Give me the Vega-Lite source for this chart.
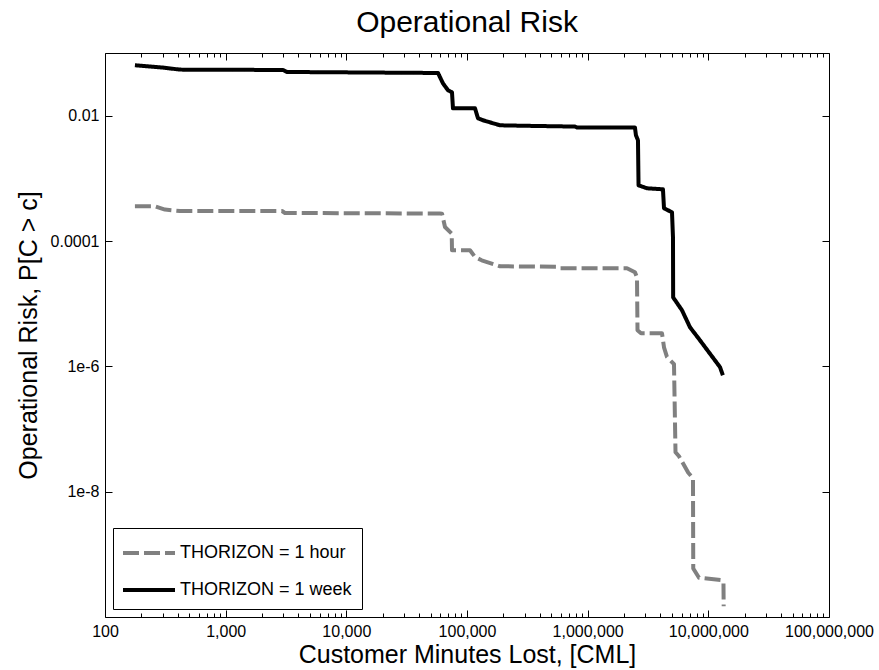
{
  "$schema": "https://vega.github.io/schema/vega-lite/v6.json",
  "width": 724,
  "height": 564,
  "autosize": {"type": "none"},
  "padding": {"left": 105, "top": 53, "right": 50, "bottom": 53},
  "background": "white",
  "title": {"text": "Operational Risk", "fontSize": 30, "font": "Liberation Sans", "fontWeight": "normal", "color": "black", "offset": 15},
  "config": {
    "view": {"stroke": "black", "strokeWidth": 1},
    "font": "Liberation Sans",
    "axis": {"domainColor": "black", "tickColor": "black", "labelColor": "black", "titleColor": "black", "grid": false, "labelFont": "Liberation Sans", "titleFont": "Liberation Sans", "titleFontWeight": "normal", "labelFontSize": 16, "titleFontSize": 25, "tickWidth": 1, "domain": false},
    "legend": {"orient": "bottom-left", "offset": 8, "strokeColor": "black", "fillColor": "white", "padding": 10, "labelFontSize": 18, "labelFont": "Liberation Sans", "labelColor": "black", "symbolSize": 676, "symbolStrokeWidth": 4, "symbolType": "M-2,0H2", "symbolOffset": 11, "rowPadding": 13, "labelOffset": 16, "labelLimit": 400}
  },
  "datasets": {
    "curves": [
      {"horizon": "1 week", "cml": 177, "risk": 0.0637},
      {"horizon": "1 week", "cml": 302, "risk": 0.0585},
      {"horizon": "1 week", "cml": 418, "risk": 0.0543},
      {"horizon": "1 week", "cml": 2986, "risk": 0.0536},
      {"horizon": "1 week", "cml": 3223, "risk": 0.0498},
      {"horizon": "1 week", "cml": 57500, "risk": 0.048},
      {"horizon": "1 week", "cml": 63200, "risk": 0.0328},
      {"horizon": "1 week", "cml": 69600, "risk": 0.0254},
      {"horizon": "1 week", "cml": 75100, "risk": 0.0236},
      {"horizon": "1 week", "cml": 76500, "risk": 0.0131},
      {"horizon": "1 week", "cml": 116500, "risk": 0.0131},
      {"horizon": "1 week", "cml": 123300, "risk": 0.00908},
      {"horizon": "1 week", "cml": 135700, "risk": 0.00844},
      {"horizon": "1 week", "cml": 187600, "risk": 0.00702},
      {"horizon": "1 week", "cml": 291000, "risk": 0.0069},
      {"horizon": "1 week", "cml": 785000, "risk": 0.0067},
      {"horizon": "1 week", "cml": 820000, "risk": 0.00645},
      {"horizon": "1 week", "cml": 2466000, "risk": 0.00645},
      {"horizon": "1 week", "cml": 2513000, "risk": 0.00486},
      {"horizon": "1 week", "cml": 2612000, "risk": 0.00405},
      {"horizon": "1 week", "cml": 2640000, "risk": 0.000774},
      {"horizon": "1 week", "cml": 3102000, "risk": 0.000694},
      {"horizon": "1 week", "cml": 4208000, "risk": 0.000668},
      {"horizon": "1 week", "cml": 4291000, "risk": 0.000333},
      {"horizon": "1 week", "cml": 5000000, "risk": 0.000287},
      {"horizon": "1 week", "cml": 5094000, "risk": 0.0001146},
      {"horizon": "1 week", "cml": 5110000, "risk": 0.0000126},
      {"horizon": "1 week", "cml": 6050000, "risk": 0.00000784},
      {"horizon": "1 week", "cml": 7050000, "risk": 0.0000042},
      {"horizon": "1 week", "cml": 8530000, "risk": 0.0000026},
      {"horizon": "1 week", "cml": 12500000, "risk": 0.00000097},
      {"horizon": "1 week", "cml": 13200000, "risk": 0.00000072},
      {"horizon": "1 hour", "cml": 177, "risk": 0.000358},
      {"horizon": "1 hour", "cml": 259, "risk": 0.000358},
      {"horizon": "1 hour", "cml": 314, "risk": 0.000317},
      {"horizon": "1 hour", "cml": 418, "risk": 0.000301},
      {"horizon": "1 hour", "cml": 2930, "risk": 0.000301},
      {"horizon": "1 hour", "cml": 3101, "risk": 0.00028},
      {"horizon": "1 hour", "cml": 59700, "risk": 0.000274},
      {"horizon": "1 hour", "cml": 62100, "risk": 0.000272},
      {"horizon": "1 hour", "cml": 65700, "risk": 0.000167},
      {"horizon": "1 hour", "cml": 74700, "risk": 0.000131},
      {"horizon": "1 hour", "cml": 75100, "risk": 0.0000711},
      {"horizon": "1 hour", "cml": 105900, "risk": 0.0000711},
      {"horizon": "1 hour", "cml": 116500, "risk": 0.0000556},
      {"horizon": "1 hour", "cml": 132300, "risk": 0.0000492},
      {"horizon": "1 hour", "cml": 187600, "risk": 0.0000395},
      {"horizon": "1 hour", "cml": 557000, "risk": 0.0000388},
      {"horizon": "1 hour", "cml": 590000, "risk": 0.0000367},
      {"horizon": "1 hour", "cml": 2118000, "risk": 0.0000367},
      {"horizon": "1 hour", "cml": 2466000, "risk": 0.0000317},
      {"horizon": "1 hour", "cml": 2563000, "risk": 0.0000264},
      {"horizon": "1 hour", "cml": 2588000, "risk": 0.00000376},
      {"horizon": "1 hour", "cml": 2767000, "risk": 0.00000337},
      {"horizon": "1 hour", "cml": 4130000, "risk": 0.00000337},
      {"horizon": "1 hour", "cml": 4291000, "risk": 0.00000201},
      {"horizon": "1 hour", "cml": 4540000, "risk": 0.00000142},
      {"horizon": "1 hour", "cml": 5193000, "risk": 0.00000108},
      {"horizon": "1 hour", "cml": 5345000, "risk": 4.25e-8},
      {"horizon": "1 hour", "cml": 5714000, "risk": 3.67e-8},
      {"horizon": "1 hour", "cml": 6823000, "risk": 2.0e-8},
      {"horizon": "1 hour", "cml": 7460000, "risk": 1.64e-8},
      {"horizon": "1 hour", "cml": 7500000, "risk": 5.93e-10},
      {"horizon": "1 hour", "cml": 8370000, "risk": 4.23e-10},
      {"horizon": "1 hour", "cml": 12900000, "risk": 3.86e-10},
      {"horizon": "1 hour", "cml": 13350000, "risk": 3.45e-10},
      {"horizon": "1 hour", "cml": 13400000, "risk": 1.48e-10}
    ]
  },
  "data": {"name": "curves"},
  "layer": [
    {
      "mark": {"type": "line", "strokeWidth": 4, "strokeCap": "butt", "strokeJoin": "round"},
      "encoding": {
        "x": {"field": "cml", "type": "quantitative", "scale": {"type": "log", "domain": [100, 100000000], "nice": false},
              "axis": {"orient": "bottom", "values": [100, 1000, 10000, 100000, 1000000, 10000000, 100000000], "format": ",", "tickSize": -7, "labelPadding": 13, "title": "Customer Minutes Lost, [CML]", "titlePadding": 3, "labelFlush": false, "labelOverlap": false}},
        "y": {"field": "risk", "type": "quantitative", "scale": {"type": "log", "domain": [1e-10, 0.1], "nice": false},
              "axis": {"orient": "left", "values": [0.01, 0.0001, 0.000001, 1e-8], "labelExpr": "datum.value > 0.005 ? '0.01' : datum.value > 0.00005 ? '0.0001' : datum.value > 0.0000005 ? '1e-6' : '1e-8'", "tickSize": -7, "labelPadding": 13, "title": "Operational Risk, P[C > c]", "titlePadding": 9, "labelOverlap": false}},
        "color": {"field": "horizon", "type": "nominal", "scale": {"domain": ["1 hour", "1 week"], "range": ["#808080", "#000000"]}, "legend": {"title": null, "labelExpr": "'THORIZON = ' + datum.label"}},
        "strokeDash": {"field": "horizon", "type": "nominal", "scale": {"domain": ["1 hour", "1 week"], "range": [[16, 5], [1, 0]]}, "legend": {"title": null, "labelExpr": "'THORIZON = ' + datum.label"}}
      }
    },
    {
      "mark": {"type": "point", "opacity": 0},
      "encoding": {
        "x": {"field": "cml", "type": "quantitative", "axis": {"orient": "top", "values": [100, 1000, 10000, 100000, 1000000, 10000000, 100000000], "labels": false, "tickSize": -7, "title": null}},
        "y": {"field": "risk", "type": "quantitative", "axis": {"orient": "right", "values": [0.01, 0.0001, 0.000001, 1e-8], "labels": false, "tickSize": -7, "title": null}}
      }
    },
    {
      "mark": {"type": "point", "opacity": 0},
      "encoding": {
        "x": {"field": "cml", "type": "quantitative", "axis": {"orient": "bottom", "values": [200, 300, 400, 500, 600, 700, 800, 900, 2000, 3000, 4000, 5000, 6000, 7000, 8000, 9000, 20000, 30000, 40000, 50000, 60000, 70000, 80000, 90000, 200000, 300000, 400000, 500000, 600000, 700000, 800000, 900000, 2000000, 3000000, 4000000, 5000000, 6000000, 7000000, 8000000, 9000000, 20000000, 30000000, 40000000, 50000000, 60000000, 70000000, 80000000, 90000000], "labels": false, "tickSize": -4, "title": null}},
        "y": {"field": "risk", "type": "quantitative", "axis": null}
      }
    },
    {
      "mark": {"type": "point", "opacity": 0},
      "encoding": {
        "x": {"field": "cml", "type": "quantitative", "axis": {"orient": "top", "values": [200, 300, 400, 500, 600, 700, 800, 900, 2000, 3000, 4000, 5000, 6000, 7000, 8000, 9000, 20000, 30000, 40000, 50000, 60000, 70000, 80000, 90000, 200000, 300000, 400000, 500000, 600000, 700000, 800000, 900000, 2000000, 3000000, 4000000, 5000000, 6000000, 7000000, 8000000, 9000000, 20000000, 30000000, 40000000, 50000000, 60000000, 70000000, 80000000, 90000000], "labels": false, "tickSize": -4, "title": null}},
        "y": {"field": "risk", "type": "quantitative", "axis": null}
      }
    }
  ],
  "resolve": {"axis": {"x": "independent", "y": "independent"}}
}
